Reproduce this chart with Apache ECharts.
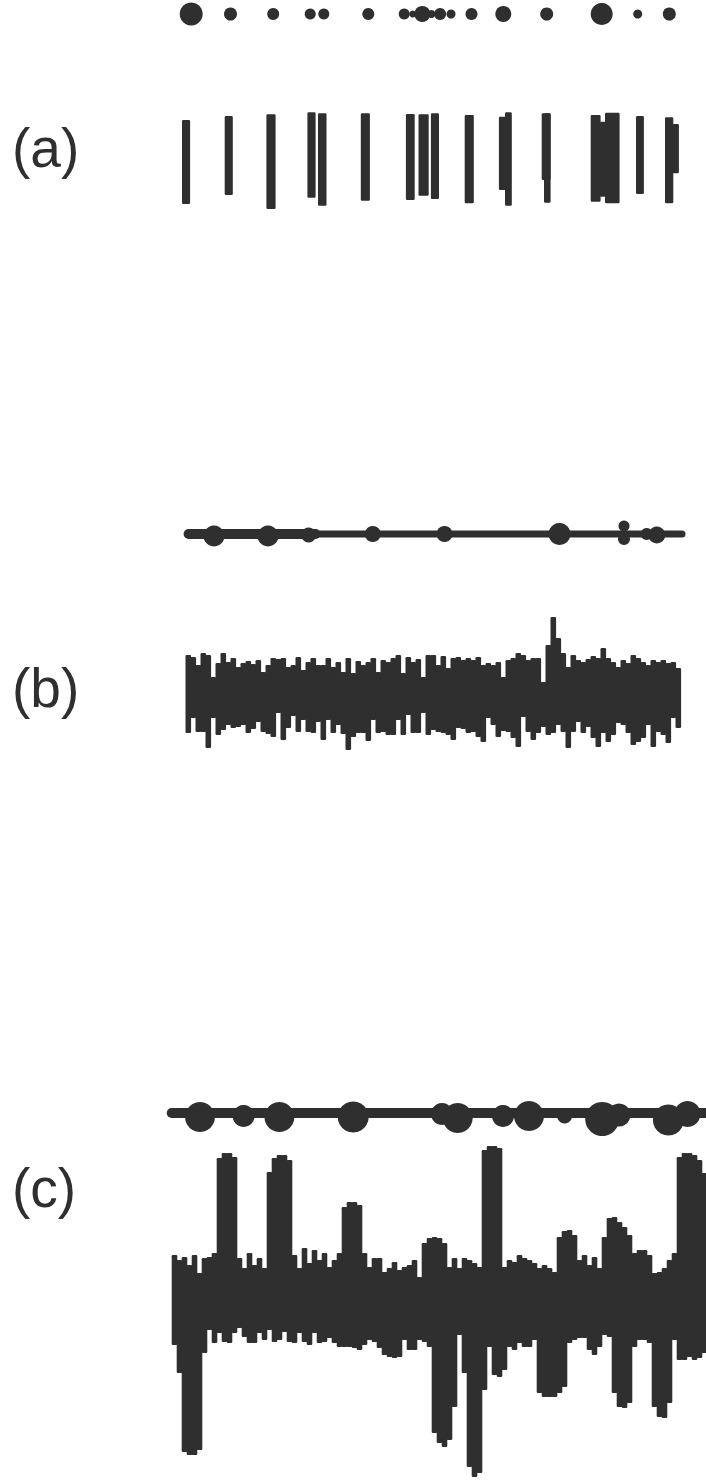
<!DOCTYPE html>
<html>
<head>
<meta charset="utf-8">
<script src="https://cdn.jsdelivr.net/npm/echarts@6/dist/echarts.min.js"></script>
<style>
html,body{margin:0;padding:0;background:#ffffff;}
#chart{width:706px;height:1480px;}
</style>
</head>
<body>
<div id="chart"></div>
<script>
// ---------------- DATA (time units; amplitude units) ----------------
const panelLabels = ['(a)', '(b)', '(c)'];

// (a) detected events: time, size
const aDotTime = [4.24, 12.1, 20.64, 28.04, 30.76, 39.66, 46.84, 48.54, 50.46, 52.3, 54.02, 56.2, 60.3, 66.66, 75.34, 86.34, 93.54, 99.86];
const aDotSize = [23, 13, 12, 11, 11, 12, 11, 7, 16, 8, 12, 9, 12, 16, 13, 22, 9, 13];

// (a) spike raster: [tStart, tEnd, top, bottom]
const aBars = [
  [2.40, 3.90, 40, -44],
  [10.94, 12.44, 44, -35],
  [19.28, 21.00, 45.7, -49],
  [27.48, 29.00, 47.7, -37.7],
  [29.60, 31.18, 46.7, -45.7],
  [38.16, 39.86, 46.7, -40.7],
  [47.18, 48.82, 46, -40],
  [49.70, 51.62, 45.7, -35.7],
  [52.18, 53.68, 46.7, -39],
  [58.94, 60.64, 45, -43.3],
  [65.78, 67.00, 43.3, -30],
  [67.00, 68.24, 47.7, -45.7],
  [74.34, 76.00, 46.7, -20],
  [74.80, 76.00, 46.7, -42.7],
  [84.14, 86.00, 45, -41.7],
  [86.00, 87.00, 38.3, -36.7],
  [87.00, 89.80, 47.3, -43.3],
  [93.20, 94.66, 44, -34],
  [99.00, 100.54, 42.7, -43.3],
  [100.54, 101.66, 36, -13.3]
];

// (b) event line and events: time, offset, size
const bLineThick = [3.72, 29.1];
const bLineThin = [29.1, 102.4];
const bDotTime = [8.8, 19.6, 27.72, 40.56, 54.9, 77.9, 90.8, 90.8, 95.34, 97.36];
const bDotOffset = [-2, -2, -1, 0, 0, 0, 8, -5, 0, -1];
const bDotSize = [21, 21, 15, 16, 16, 22, 11, 12, 12, 17];

// (b) recording envelope per sample column
const bStart = 3.1;
const bUpper = [35,33,25,37,35,13,27,37,28,32,23,27,29,26,30,18,25,32,31,32,23,25,33,20,28,32,25,25,32,23,28,18,32,17,29,25,28,32,18,30,28,32,35,17,33,28,31,13,35,
  35,25,34,22,32,33,30,32,30,33,25,27,25,28,13,30,32,37,35,30,32,32,8,45,73,52,37,23,35,30,28,31,34,32,42,32,28,23,30,27,35,32,28,25,30,28,30,27,28,22];
const bLower = [-43,-28,-42,-42,-58,-28,-45,-40,-35,-38,-37,-35,-43,-39,-32,-42,-44,-47,-23,-50,-38,-26,-42,-30,-42,-43,-32,-50,-30,-43,-35,-44,-60,-47,-43,-43,-51,-30,-43,-42,-45,-45,-30,-45,-25,-43,-43,-23,-45,
  -40,-42,-43,-45,-50,-38,-39,-43,-42,-47,-52,-28,-35,-47,-41,-42,-48,-57,-27,-42,-50,-43,-37,-45,-43,-35,-42,-58,-42,-32,-43,-37,-48,-57,-43,-52,-45,-33,-35,-43,-55,-52,-48,-35,-57,-42,-45,-53,-28,-38];

// (c) event line and events
const cLineSpan = [0.34, 107.2];
const cDotTime = [6.0, 14.72, 21.88, 36.64, 54.4, 57.54, 66.6, 71.8, 76.34, 78.92, 86.44, 89.8, 99.68, 103.5];
const cDotOffset = [-4, -3, -4, -4, -1, -5, -3, -3, 0, -3, -6, -2, -7, -1];
const cDotSize = [30, 22, 30, 31, 22, 30, 22, 30, 9, 15, 34, 23, 31, 26];

// (c) recording envelope per sample column
const cStart = 0.34;
const cUpper = [45,40,43,35,45,27,42,43,47,142,147,147,143,42,32,47,35,42,32,128,142,145,145,140,45,32,52,37,50,40,
  47,33,40,47,93,98,98,95,47,33,42,42,28,32,38,30,33,35,40,23,57,62,63,62,57,33,42,32,42,40,
  37,33,150,154,154,152,33,40,38,45,42,40,37,32,35,32,28,63,69,70,65,40,45,35,43,32,63,82,83,78,
  73,65,47,50,50,45,27,28,32,40,47,143,147,147,145,140,127];
const cLower = [-45,-73,-152,-155,-155,-150,-53,-30,-43,-33,-42,-43,-33,-28,-37,-43,-43,-33,-40,-30,-42,-40,-32,-42,-43,-33,-42,-45,-33,-43,
  -42,-38,-43,-47,-47,-47,-48,-50,-45,-40,-42,-48,-55,-57,-58,-57,-40,-50,-50,-40,-42,-47,-133,-143,-147,-140,-107,-35,-73,-167,
  -177,-173,-90,-47,-75,-77,-70,-47,-50,-43,-47,-47,-40,-93,-97,-97,-97,-93,-87,-43,-40,-38,-38,-50,-55,-47,-35,-37,-93,-107,
  -108,-103,-47,-40,-40,-43,-107,-117,-118,-103,-40,-60,-60,-57,-60,-58,-53];

// ---------------- CHART ----------------
const INK = '#2f2f2f';
const chart = echarts.init(document.getElementById('chart'), null, {renderer: 'svg', width: 706, height: 1480});

const grids = [
  {left: 170, width: 536, top: 0, height: 28},      // a events
  {left: 170, width: 536, top: 100, height: 120},   // a raster
  {left: 170, width: 536, top: 514, height: 40},    // b events
  {left: 170, width: 536, top: 610, height: 160},   // b recording
  {left: 170, width: 536, top: 1093, height: 40},   // c events
  {left: 170, width: 536, top: 1140, height: 340}   // c recording
];
const yRanges = [[-14, 14], [-60, 60], [-20, 20], [-80, 80], [-20, 20], [-180, 160]];

const xAxes = grids.map((g, i) => ({gridIndex: i, type: 'value', min: 0, max: 107.2, show: false}));
const yAxes = yRanges.map((r, i) => ({gridIndex: i, type: 'value', min: r[0], max: r[1], show: false}));

function rectItem(params, api) {
  const p0 = api.coord([api.value(0), api.value(2)]);
  const p1 = api.coord([api.value(1), api.value(3)]);
  return {
    type: 'rect',
    shape: {x: p0[0], y: p0[1], width: p1[0] - p0[0] + 0.6, height: p1[1] - p0[1], r: 1.2},
    style: {fill: INK}
  };
}

function columns(start, up, lo) {
  return up.map((u, i) => [start + i, start + i + 1, u, lo[i]]);
}

function dotSeries(axis, times, offs, sizes) {
  return {
    type: 'scatter', xAxisIndex: axis, yAxisIndex: axis,
    data: times.map((t, i) => [t, offs ? offs[i] : 0, sizes[i]]),
    symbol: 'circle',
    symbolSize: v => v[2],
    itemStyle: {color: INK, opacity: 1},
    silent: true
  };
}

function lineSeries(axis, span, width) {
  return {
    type: 'line', xAxisIndex: axis, yAxisIndex: axis,
    data: [[span[0], 0], [span[1], 0]],
    symbol: 'none',
    lineStyle: {color: INK, width: width, cap: 'round'},
    silent: true
  };
}

const labelY = [152, 692, 1192];

chart.setOption({
  animation: false,
  backgroundColor: '#ffffff',
  grid: grids,
  xAxis: xAxes,
  yAxis: yAxes,
  graphic: panelLabels.map((txt, i) => ({
    type: 'text',
    left: 12,
    top: labelY[i] - 32,
    style: {text: txt, font: '55px "Liberation Sans"', fill: INK}
  })),
  series: [
    dotSeries(0, aDotTime, null, aDotSize),
    {
      type: 'custom', xAxisIndex: 1, yAxisIndex: 1, clip: false,
      renderItem: rectItem, encode: {x: [0, 1], y: [2, 3]},
      data: aBars, silent: true
    },
    lineSeries(2, bLineThick, 10),
    lineSeries(2, bLineThin, 7),
    dotSeries(2, bDotTime, bDotOffset, bDotSize),
    {
      type: 'custom', xAxisIndex: 3, yAxisIndex: 3, clip: false,
      renderItem: rectItem, encode: {x: [0, 1], y: [2, 3]},
      data: columns(bStart, bUpper, bLower), silent: true
    },
    lineSeries(4, cLineSpan, 10),
    dotSeries(4, cDotTime, cDotOffset, cDotSize),
    {
      type: 'custom', xAxisIndex: 5, yAxisIndex: 5, clip: false,
      renderItem: rectItem, encode: {x: [0, 1], y: [2, 3]},
      data: columns(cStart, cUpper, cLower), silent: true
    }
  ]
});
</script>
</body>
</html>
